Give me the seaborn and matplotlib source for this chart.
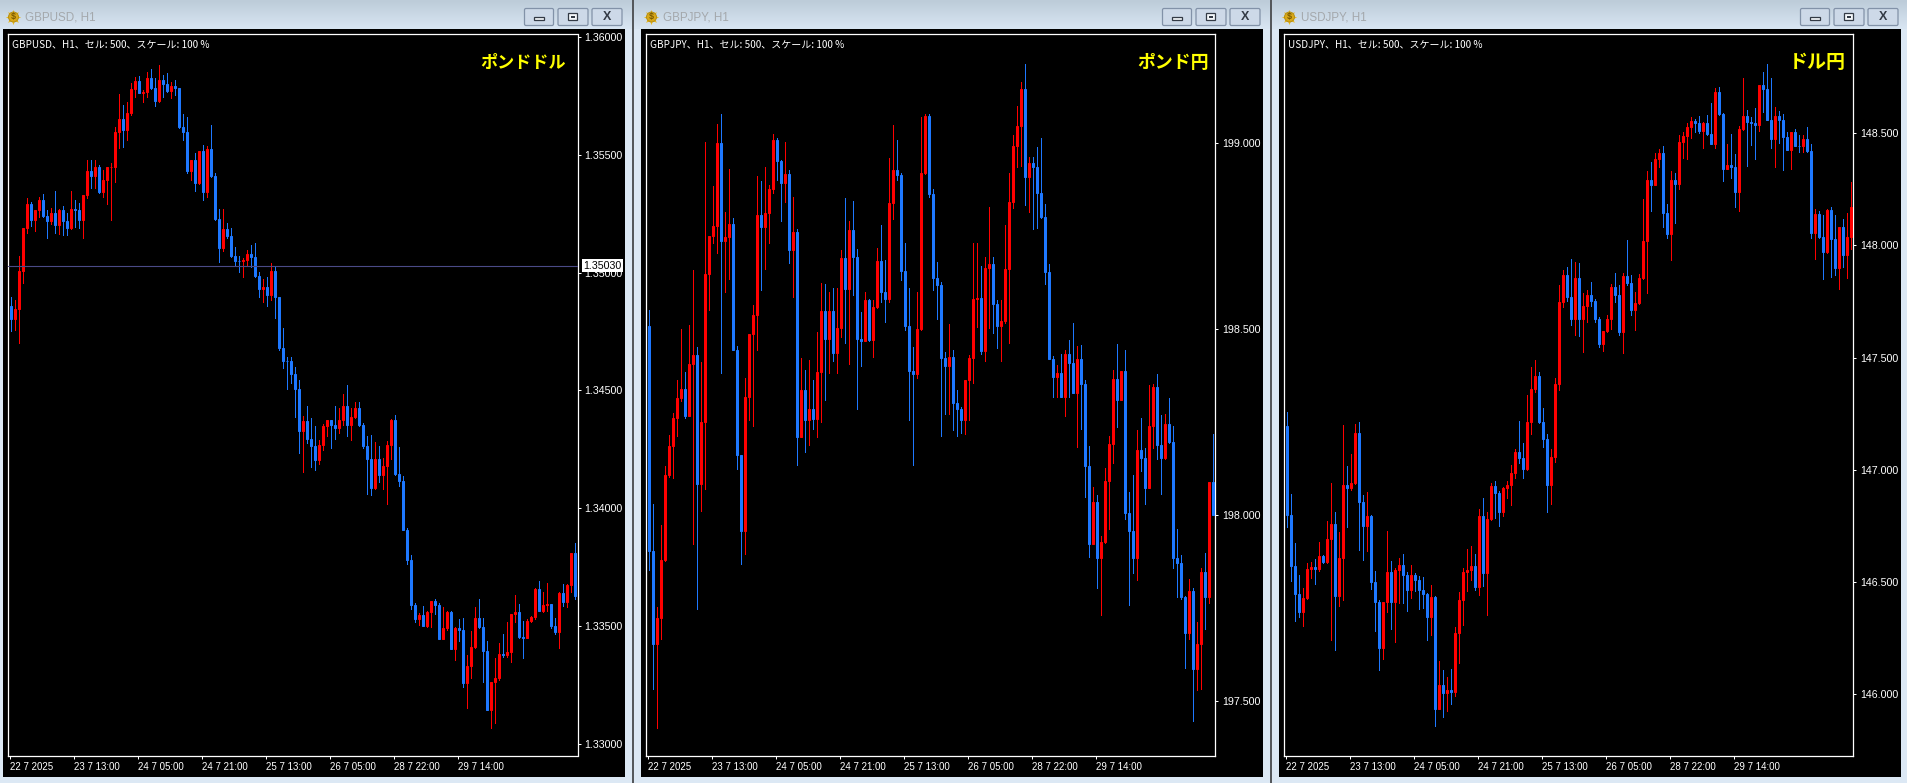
import numpy as np
import pandas as pd
import seaborn as sns
import matplotlib
matplotlib.use("Agg")
import matplotlib.pyplot as plt
from matplotlib.patches import Rectangle, Circle, FancyBboxPatch

# ---------- GBPUSD ----------
gbpusd_first_open = 1.34859
gbpusd_close = [
1.34804,1.34846,1.35007,1.35189,1.35292,1.35224,1.35267,1.35309,1.35242,1.35221,
1.35252,1.35203,1.35267,1.35221,1.35191,1.35269,1.35268,1.35224,1.35330,1.35432,
1.35411,1.35448,1.35344,1.35394,1.35448,1.35451,1.35598,1.35652,1.35606,1.35677,
1.35780,1.35814,1.35765,1.35769,1.35826,1.35783,1.35731,1.35819,1.35802,1.35773,
1.35795,1.35783,1.35620,1.35599,1.35432,1.35479,1.35383,1.35517,1.35344,1.35526,
1.35412,1.35230,1.35106,1.35186,1.35157,1.35071,1.35051,1.35050,1.35054,1.35078,
1.35068,1.34988,1.34929,1.34938,1.34905,1.35007,1.34895,1.34679,1.34626,1.34625,
1.34570,1.34505,1.34329,1.34370,1.34295,1.34265,1.34206,1.34270,1.34350,1.34373,
1.34353,1.34342,1.34373,1.34432,1.34353,1.34387,1.34425,1.34355,1.34263,1.34209,
1.34086,1.34209,1.34142,1.34178,1.34268,1.34376,1.34147,1.34117,1.33909,1.33781,
1.33590,1.33530,1.33547,1.33501,1.33557,1.33604,1.33590,1.33445,1.33491,1.33559,
1.33403,1.33491,1.33484,1.33257,1.33328,1.33409,1.33533,1.33495,1.33395,1.33144,
1.33261,1.33278,1.33380,1.33378,1.33389,1.33550,1.33559,1.33451,1.33450,1.33522,
1.33538,1.33658,1.33565,1.33590,1.33591,1.33501,1.33472,1.33640,1.33601,1.33674,
1.33809,1.33628]
gbpusd_high = [
1.34898,1.34884,1.35071,1.35189,1.35316,1.35302,1.35267,1.35320,1.35334,1.35267,
1.35274,1.35347,1.35269,1.35283,1.35252,1.35347,1.35309,1.35295,1.35330,1.35479,
1.35479,1.35479,1.35458,1.35436,1.35448,1.35465,1.35620,1.35759,1.35712,1.35727,
1.35805,1.35833,1.35836,1.35776,1.35854,1.35864,1.35826,1.35882,1.35840,1.35847,
1.35812,1.35819,1.35783,1.35674,1.35663,1.35479,1.35507,1.35517,1.35543,1.35539,
1.35628,1.35422,1.35269,1.35269,1.35210,1.35191,1.35108,1.35071,1.35061,1.35097,
1.35118,1.35125,1.35005,1.34972,1.34981,1.35040,1.35026,1.34898,1.34764,1.34641,
1.34641,1.34601,1.34544,1.34390,1.34432,1.34383,1.34348,1.34291,1.34359,1.34373,
1.34373,1.34432,1.34425,1.34485,1.34524,1.34425,1.34450,1.34451,1.34362,1.34305,
1.34312,1.34280,1.34263,1.34213,1.34284,1.34380,1.34394,1.34260,1.34135,1.33916,
1.33800,1.33597,1.33555,1.33583,1.33562,1.33604,1.33614,1.33597,1.33580,1.33562,
1.33565,1.33494,1.33529,1.33533,1.33378,1.33477,1.33580,1.33614,1.33533,1.33434,
1.33261,1.33363,1.33427,1.33465,1.33516,1.33550,1.33632,1.33593,1.33522,1.33529,
1.33540,1.33661,1.33690,1.33644,1.33682,1.33593,1.33533,1.33642,1.33678,1.33678,
1.33809,1.33852]
gbpusd_low = [
1.34754,1.34757,1.34703,1.34955,1.35167,1.35199,1.35177,1.35238,1.35238,1.35149,
1.35207,1.35167,1.35163,1.35160,1.35160,1.35187,1.35196,1.35191,1.35149,1.35316,
1.35359,1.35359,1.35340,1.35323,1.35292,1.35224,1.35387,1.35528,1.35535,1.35564,
1.35670,1.35748,1.35762,1.35727,1.35748,1.35779,1.35708,1.35727,1.35745,1.35769,
1.35744,1.35755,1.35613,1.35564,1.35425,1.35394,1.35349,1.35377,1.35309,1.35320,
1.35408,1.35224,1.35047,1.35094,1.35146,1.35068,1.35033,1.35005,1.34983,1.35033,
1.35026,1.34983,1.34898,1.34877,1.34860,1.34884,1.34809,1.34672,1.34597,1.34505,
1.34530,1.34387,1.34236,1.34154,1.34277,1.34175,1.34163,1.34188,1.34248,1.34305,
1.34255,1.34294,1.34319,1.34355,1.34308,1.34291,1.34383,1.34350,1.34255,1.34061,
1.34057,1.34083,1.34110,1.34081,1.34018,1.34209,1.34142,1.34093,1.33909,1.33764,
1.33572,1.33516,1.33505,1.33498,1.33494,1.33495,1.33552,1.33444,1.33444,1.33484,
1.33402,1.33356,1.33437,1.33239,1.33151,1.33278,1.33406,1.33491,1.33261,1.33141,
1.33066,1.33087,1.33271,1.33368,1.33368,1.33346,1.33516,1.33448,1.33363,1.33451,
1.33515,1.33529,1.33562,1.33557,1.33562,1.33491,1.33467,1.33406,1.33586,1.33580,
1.33642,1.33614]

# ---------- GBPJPY ----------
gbpjpy_first_open = 198.509
gbpjpy_close = [
197.905,197.653,197.724,197.879,198.108,198.186,198.262,198.316,198.340,198.266,
198.407,198.431,198.083,198.250,198.649,198.751,198.778,199.000,198.736,198.747,
198.783,198.444,198.161,197.959,198.317,198.487,198.539,198.807,198.776,198.812,
198.876,199.009,198.952,198.894,198.917,198.713,198.761,198.211,198.337,198.257,
198.286,198.260,198.386,198.549,198.474,198.549,198.437,198.503,198.691,198.608,
198.767,198.695,198.474,198.469,198.579,198.471,198.559,198.684,198.601,198.582,
198.839,198.928,198.915,198.658,198.510,198.388,198.380,198.500,198.919,199.073,
198.864,198.637,198.619,198.424,198.400,198.425,198.302,198.287,198.255,198.364,
198.422,198.581,198.585,198.442,198.664,198.675,198.568,198.510,198.522,198.661,
198.841,198.993,199.047,199.146,198.910,198.948,198.937,198.867,198.803,198.655,
198.420,198.373,198.382,198.319,198.434,198.409,198.328,198.419,198.353,198.132,
197.924,198.035,197.884,197.928,198.092,198.192,198.365,198.311,198.388,198.005,
197.959,197.884,198.175,198.154,198.074,198.239,198.344,198.190,198.154,198.246,
198.197,197.886,197.872,197.781,197.684,197.796,197.587,197.653,197.847,197.781,
198.089,198.000]
gbpjpy_high = [
198.552,198.031,197.754,197.973,198.132,198.217,198.275,198.364,198.500,198.385,
198.511,198.659,198.453,198.413,199.004,198.751,198.885,199.052,199.080,198.816,
198.931,198.798,198.455,198.162,198.368,198.487,198.565,198.912,198.899,198.935,
198.888,199.025,199.015,198.955,199.003,198.928,198.855,198.770,198.422,198.391,
198.417,198.364,198.494,198.624,198.622,198.601,198.610,198.610,198.713,198.852,
198.791,198.845,198.715,198.546,198.599,198.581,198.579,198.718,198.780,198.686,
198.960,199.049,199.009,198.921,198.731,198.610,198.453,198.601,199.072,199.079,
199.079,198.876,198.682,198.628,198.440,198.514,198.443,198.337,198.291,198.364,
198.431,198.731,198.731,198.671,198.695,198.830,198.695,198.579,198.579,198.780,
198.921,199.022,199.100,199.166,199.213,198.964,198.964,198.991,199.015,198.837,
198.675,198.428,198.404,198.434,198.444,198.471,198.516,198.455,198.458,198.364,
198.186,198.076,198.055,197.944,198.127,198.213,198.391,198.460,198.388,198.444,
198.063,198.108,198.228,198.262,198.181,198.351,198.353,198.380,198.269,198.271,
198.316,198.239,197.964,197.893,197.784,197.829,197.805,197.714,197.858,197.899,
198.089,198.219]
gbpjpy_low = [
197.852,197.534,197.429,197.668,197.878,198.102,198.101,198.214,198.307,198.262,
198.266,197.923,197.749,198.011,198.071,198.552,198.731,198.704,198.382,198.601,
198.634,198.444,198.125,197.868,197.896,198.257,198.241,198.444,198.606,198.661,
198.731,198.867,198.901,198.792,198.843,198.677,198.588,198.136,198.211,198.170,
198.190,198.233,198.211,198.251,198.309,198.383,198.415,198.382,198.480,198.462,
198.407,198.592,198.287,198.400,198.469,198.469,198.426,198.556,198.574,198.520,
198.574,198.796,198.901,198.632,198.498,198.255,198.134,198.370,198.498,198.917,
198.855,198.606,198.527,198.214,198.273,198.273,198.228,198.214,198.222,198.219,
198.257,198.355,198.507,198.433,198.415,198.503,198.491,198.449,198.415,198.516,
198.464,198.825,198.937,198.939,198.834,198.816,198.770,198.771,198.798,198.622,
198.419,198.319,198.318,198.317,198.266,198.319,198.328,198.184,198.231,198.050,
197.888,197.924,197.805,197.731,197.926,197.962,198.141,198.238,198.311,197.989,
197.760,197.845,197.827,198.119,198.029,198.074,198.181,198.152,198.056,198.152,
198.193,197.859,197.781,197.775,197.590,197.668,197.448,197.530,197.532,197.695,
197.765,198.000]

# ---------- USDJPY ----------
usdjpy_first_open = 147.194
usdjpy_close = [
146.800,146.573,146.448,146.368,146.427,146.558,146.567,146.559,146.616,146.589,
146.692,146.758,146.436,146.607,146.932,146.919,146.941,147.164,146.855,146.751,
146.796,146.500,146.409,146.206,146.411,146.543,146.411,146.555,146.576,146.533,
146.464,146.531,146.507,146.466,146.446,146.344,146.433,145.935,146.041,146.005,
146.017,146.010,146.272,146.418,146.543,146.552,146.571,146.478,146.793,146.540,
146.781,146.928,146.897,146.812,146.919,146.934,146.986,147.079,147.053,147.004,
147.212,147.360,147.418,147.213,147.139,146.934,147.057,147.383,147.749,147.868,
147.772,147.671,147.853,147.671,147.730,147.779,147.752,147.672,147.561,147.619,
147.672,147.816,147.779,147.616,147.865,147.834,147.712,147.745,147.853,148.020,
148.292,148.269,148.385,148.411,148.143,148.049,148.292,148.274,148.460,148.488,
148.526,148.556,148.547,148.512,148.544,148.497,148.452,148.684,148.586,148.341,
148.359,148.348,148.240,148.518,148.577,148.552,148.547,148.537,148.715,148.697,
148.559,148.473,148.577,148.559,148.485,148.425,148.504,148.445,148.443,148.473,
148.421,148.057,148.140,148.039,147.972,148.158,148.027,147.898,148.081,147.957,
148.036,148.170]
usdjpy_high = [
147.258,146.892,146.674,146.533,146.473,146.585,146.589,146.602,146.678,146.619,
146.770,146.941,146.812,146.723,147.201,147.015,147.072,147.204,147.213,146.889,
146.901,146.800,146.547,146.421,146.411,146.729,146.595,146.562,146.607,146.625,
146.544,146.577,146.540,146.525,146.521,146.451,146.488,146.439,146.146,146.109,
146.076,146.113,146.299,146.454,146.562,146.648,146.659,146.625,146.825,146.874,
146.812,146.941,146.952,146.904,146.923,146.949,147.023,147.094,147.216,147.119,
147.335,147.458,147.489,147.434,147.276,147.160,147.093,147.408,147.824,147.890,
147.905,147.938,147.928,147.920,147.787,147.802,147.836,147.760,147.682,147.619,
147.690,147.828,147.876,147.824,147.876,148.024,147.868,147.794,147.873,148.207,
148.332,148.371,148.411,148.430,148.445,148.185,148.332,148.321,148.492,148.507,
148.544,148.574,148.562,148.577,148.552,148.581,148.636,148.700,148.708,148.589,
148.451,148.495,148.406,148.532,148.745,148.604,148.574,148.611,148.715,148.775,
148.807,148.745,148.616,148.599,148.584,148.507,148.504,148.518,148.492,148.492,
148.528,148.452,148.161,148.153,148.136,148.161,148.173,148.136,148.084,148.116,
148.143,148.284]
usdjpy_low = [
146.745,146.506,146.327,146.344,146.305,146.424,146.518,146.492,146.547,146.585,
146.585,146.243,146.198,146.391,146.421,146.745,146.911,146.937,146.644,146.599,
146.640,146.469,146.283,146.109,146.158,146.366,146.290,146.232,146.406,146.406,
146.372,146.428,146.458,146.379,146.384,146.243,146.265,145.856,145.935,145.898,
145.926,145.957,145.990,146.139,146.310,146.458,146.510,146.466,146.443,146.481,
146.354,146.778,146.785,146.751,146.793,146.874,146.845,146.963,147.030,146.963,
147.001,147.160,147.345,147.209,147.102,146.812,146.848,147.035,147.357,147.724,
147.754,147.645,147.601,147.598,147.527,147.660,147.730,147.660,147.549,147.531,
147.616,147.628,147.749,147.601,147.519,147.824,147.690,147.623,147.739,147.849,
147.790,148.155,148.269,148.351,148.081,148.032,147.935,148.101,148.251,148.388,
148.385,148.477,148.507,148.500,148.436,148.492,148.451,148.436,148.581,148.287,
148.341,148.299,148.173,148.155,148.515,148.355,148.448,148.384,148.512,148.596,
148.559,148.436,148.351,148.455,148.336,148.425,148.341,148.443,148.418,148.418,
148.418,148.035,147.939,148.035,147.849,147.968,147.861,147.868,147.804,147.905,
147.853,147.983]

# ---------- labels ----------
x_tick_labels = ["22 7 2025", "23 7 13:00", "24 7 05:00", "24 7 21:00",
                 "25 7 13:00", "26 7 05:00", "28 7 22:00", "29 7 14:00"]
gbpusd_ticks = [1.33, 1.335, 1.34, 1.345, 1.35, 1.355, 1.36]
gbpjpy_ticks = [197.5, 198.0, 198.5, 199.0]
usdjpy_ticks = [146.0, 146.5, 147.0, 147.5, 148.0, 148.5]
current_price_line = 1.35030

W, H = 1908, 783
UP, DOWN = "#FF0000", "#1E78FF"
WINDOW_BG = "#DCE8F4"

sns.set_theme(style="dark")
plt.rcParams["font.family"] = ["Liberation Sans", "DejaVu Sans"]
CJK = ["Noto Sans CJK JP", "DejaVu Sans"]

fig = plt.figure(figsize=(W / 100, H / 100), dpi=100, facecolor=WINDOW_BG)

# window chrome, drawn in pixel coordinates on a full-figure layer
bg = fig.add_axes([0, 0, 1, 1], zorder=-1)
bg.set_xlim(0, W)
bg.set_ylim(H, 0)
bg.axis("off")
grad = np.linspace(0, 1, 32)[:, None, None]
top_col = np.array([0xBD, 0xCC, 0xD9]) / 255
bot_col = np.array([0xD8, 0xE5, 0xF2]) / 255
bg.imshow(top_col + (bot_col - top_col) * grad, extent=(0, W, 29, 0), aspect="auto", zorder=0)
bg.set_xlim(0, W)
bg.set_ylim(H, 0)


def chrome(off, name):
    bg.add_patch(Rectangle((3 + off, 29), 622, 748, fc="black", ec="none", zorder=1))
    bg.scatter([13.5 + off], [17], marker=(8, 1, 0), s=120, c="#E8B820", linewidths=0, zorder=2)
    bg.add_patch(Circle((13.5 + off, 17), 5, fc="#D9A818", ec="#B08A10", lw=0.6, zorder=2))
    bg.text(13.5 + off, 17, "$", color="#7A5A00", fontsize=6.5, ha="center", va="center",
            fontweight="bold", zorder=3)
    bg.text(25 + off, 17.5, f"{name}, H1", color="#A4A8AC", fontsize=8.4, ha="left",
            va="center", zorder=3)
    for n, (x0, x1) in enumerate([(524, 554), (557.5, 588.5), (591.5, 622.5)]):
        bg.add_patch(FancyBboxPatch((x0 + off + 0.5, 8.5), x1 - x0 - 1, 17,
                                    boxstyle="round,pad=0,rounding_size=1.5",
                                    fc="#CDD9E8", ec="#8292A8", lw=0.9, zorder=2))
        cx = (x0 + x1) / 2 + off
        if n == 0:
            bg.add_patch(Rectangle((cx - 5, 17), 10, 3, fc="#F4F7FA", ec="#333A45", lw=0.9, zorder=3))
        elif n == 1:
            bg.add_patch(Rectangle((cx - 4.5, 13), 9, 7, fc="#F4F7FA", ec="#333A45", lw=0.9, zorder=3))
            bg.add_patch(Rectangle((cx - 2, 15.5), 4, 2.5, fc="#333A45", ec="none", zorder=4))
        else:
            bg.text(cx, 16.5, "X", color="#333A45", fontsize=9, fontweight="bold",
                    ha="center", va="center", zorder=3)


for sep in (632, 1270):
    bg.add_patch(Rectangle((sep, 0), 2, H, fc="#55585C", ec="none", zorder=2))


def draw_panel(off, name, title, first_open, close, high, low, ticks, fmt, ylim, hline=None):
    chrome(off, name)
    left, right, top, bottom = 8.5 + off, 577.5 + off, 34.3, 756.3
    ax = fig.add_axes([left / W, 1 - bottom / H, (right - left) / W, (bottom - top) / H],
                      facecolor="black")
    opens = [first_open] + list(close[:-1])
    df = pd.DataFrame({"i": np.arange(len(close)), "open": opens, "close": close,
                       "high": high, "low": low})
    df["dir"] = np.where(df["close"] >= df["open"], "up", "down")
    wicks = df.melt(id_vars=["i", "dir"], value_vars=["low", "high"], value_name="price")
    sns.lineplot(data=wicks, x="i", y="price", hue="dir", units="i", estimator=None,
                 palette={"up": UP, "down": DOWN}, hue_order=["up", "down"], legend=False,
                 linewidth=0.72, sort=False, antialiased=False, ax=ax, zorder=2)
    body_low = df[["open", "close"]].min(axis=1)
    body_h = (df["close"] - df["open"]).abs()
    colors = df["dir"].map({"up": UP, "down": DOWN})
    ax.bar(df["i"], body_h, bottom=body_low, width=0.6, color=colors, edgecolor=colors,
           linewidth=0.72, zorder=3)
    ax.set_xlim(-0.65, 141.6)
    ax.set_ylim(*ylim)
    ax.set_xlabel("")
    ax.set_ylabel("")
    ax.grid(False)
    for s in ax.spines.values():
        s.set_color("white")
        s.set_linewidth(0.9)
        s.set_visible(True)
    ax.yaxis.tick_right()
    ax.set_yticks(ticks)
    ax.set_yticklabels([fmt % t for t in ticks])
    ax.set_xticks(np.arange(len(x_tick_labels)) * 16 - 0.3)
    ax.set_xticklabels(x_tick_labels, ha="left")
    ax.tick_params(axis="y", length=2.4, width=0.72, color="white", labelcolor="white",
                   labelsize=7.7, pad=2.6, right=True, labelright=True)
    ax.tick_params(axis="x", length=2.4, width=0.72, color="white", labelcolor="white",
                   labelsize=7.0, pad=1.8, bottom=True)
    for lab in ax.get_xticklabels():
        lab.set_x(lab.get_position()[0] + 0.2)
    ax.text(12 + off, 44, f"{name}、H1、セル: 500、スケール: 100 %", color="white",
            fontsize=7.2, family=CJK, ha="left", va="center",
            transform=bg.transData, zorder=5)
    ax.text(title[1] + off, 63, title[0], color="#FFFF00", fontsize=title[2], fontweight="bold",
            family=CJK, ha="right", va="center", transform=bg.transData, zorder=5)
    if hline is not None:
        ax.axhline(hline, color="#4A4A86", lw=0.8, zorder=4)
        ax.annotate("%.5f" % hline, xy=(1, hline), xycoords=("axes fraction", "data"),
                    xytext=(4.2, 0), textcoords="offset points", color="black",
                    fontsize=7.7, va="center", ha="left", annotation_clip=False,
                    bbox=dict(boxstyle="square,pad=0.12", fc="white", ec="white", lw=0), zorder=6)


draw_panel(0, "GBPUSD", ("ポンドドル", 565.5, 12.3), gbpusd_first_open, gbpusd_close, gbpusd_high,
           gbpusd_low, gbpusd_ticks, "%.5f", (1.32946, 1.36013), hline=current_price_line)
draw_panel(638, "GBPJPY", ("ポンド円", 571, 12.9), gbpjpy_first_open, gbpjpy_close, gbpjpy_high,
           gbpjpy_low, gbpjpy_ticks, "%.3f", (197.352, 199.293))
draw_panel(1276, "USDJPY", ("ドル円", 569.5, 13.7), usdjpy_first_open, usdjpy_close, usdjpy_high,
           usdjpy_low, usdjpy_ticks, "%.3f", (145.723, 148.941))

fig.savefig("out.png", dpi=100, facecolor=fig.get_facecolor())
